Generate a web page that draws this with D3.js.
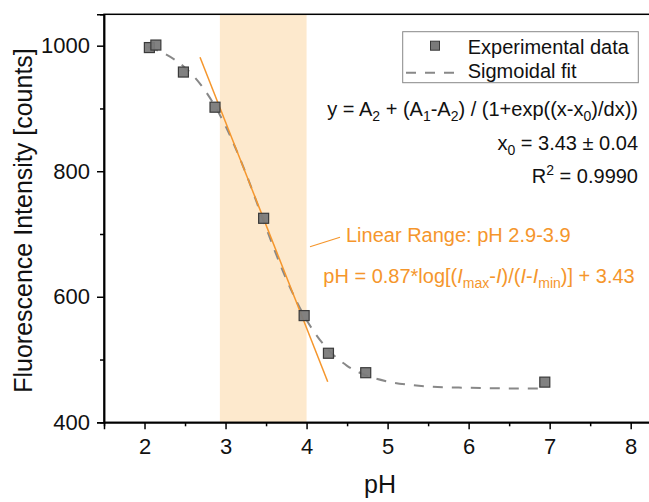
<!DOCTYPE html>
<html>
<head>
<meta charset="utf-8">
<script src="https://cdn.jsdelivr.net/npm/d3@7"></script>
<style>
  body { margin: 0; background: #fff; }
  text { font-family: "Liberation Sans", Arial, sans-serif; }
</style>
</head>
<body>
<div id="chart"></div>
<script>
// measured points
var phValues   = [2.06, 2.14, 2.48, 2.87, 3.47, 3.97, 4.27, 4.73, 6.94];
var intensity  = [997, 1001, 958, 902, 725, 570, 510, 479, 464];

// dashed sigmoidal fit
var fitX = [2.05, 2.25, 2.5, 2.75, 3.0, 3.25, 3.5, 3.75, 4.0, 4.25, 4.5, 4.75, 5.0, 5.25, 5.5, 6.0, 6.5, 6.95];
var fitY = [998, 987, 965, 928, 872, 797, 710, 628, 563, 518, 490, 474, 465, 460, 457, 455, 454, 454];

// orange linear fit line (end points) and shaded linear range
var linearX = [2.685, 4.261];
var linearY = [981.5, 464.7];
var bandRange = [2.93, 4.0];

var xMajor = [2, 3, 4, 5, 6, 7, 8];
var xMinor = [2.5, 3.5, 4.5, 5.5, 6.5, 7.5];
var yMajor = [400, 600, 800, 1000];
var yMinor = [500, 700, 900];

var width = 649, height = 502;
var orange = "#f5962c";

var svg = d3.select("#chart").append("svg")
    .attr("width", width)
    .attr("height", height);

var xScale = d3.scaleLinear().domain([1.5, 8.3]).range([104, 655]);
var yScale = d3.scaleLinear().domain([400, 1050]).range([422.3, 14.3]);

// shaded linear range
svg.append("rect")
    .attr("x", xScale(bandRange[0]))
    .attr("y", yScale(1050))
    .attr("width", xScale(bandRange[1]) - xScale(bandRange[0]))
    .attr("height", yScale(400) - yScale(1050))
    .style("fill", "#fde9cd");

// frame (right side falls outside the picture)
svg.append("rect")
    .attr("x", xScale(1.5))
    .attr("y", yScale(1050))
    .attr("width", xScale(8.3) - xScale(1.5))
    .attr("height", yScale(400) - yScale(1050))
    .style("fill", "none")
    .attr("stroke", "#000")
    .attr("stroke-width", 1.5);

// axes
var xAxis = d3.axisBottom(xScale).tickValues(xMajor).tickSize(7).tickPadding(9).tickFormat(d3.format("d"));
var xAxisMinor = d3.axisBottom(xScale).tickValues(xMinor).tickSize(4).tickFormat("");
var yAxis = d3.axisLeft(yScale).tickValues(yMajor).tickSize(7).tickPadding(7).tickFormat(d3.format("d"));
var yAxisMinor = d3.axisLeft(yScale).tickValues(yMinor).tickSize(4).tickFormat("");

[[xAxis, "x"], [xAxisMinor, "x"], [yAxis, "y"], [yAxisMinor, "y"]].forEach(function(a) {
  var g = svg.append("g")
      .attr("transform", a[1] === "x" ? "translate(0," + yScale(400) + ")" : "translate(" + xScale(1.5) + ",0)")
      .call(a[0]);
  g.select(".domain").attr("stroke-width", 1.5);
  g.selectAll(".tick line").attr("stroke-width", 1.5);
  g.selectAll(".tick text")
      .attr("font-size", 22)
      .attr("fill", "#111")
      .style("font-family", "'Liberation Sans', Arial, sans-serif");
});

// sigmoidal fit
var line = d3.line()
    .x(function(d) { return xScale(d[0]); })
    .y(function(d) { return yScale(d[1]); })
    .curve(d3.curveMonotoneX);

svg.append("path")
    .datum(d3.zip(fitX, fitY))
    .attr("d", line)
    .attr("fill", "none")
    .attr("stroke", "#888")
    .attr("stroke-width", 2)
    .attr("stroke-dasharray", "10,9");

// linear fit
svg.append("path")
    .datum(d3.zip(linearX, linearY))
    .attr("d", d3.line().x(function(d) { return xScale(d[0]); }).y(function(d) { return yScale(d[1]); }))
    .attr("stroke", orange)
    .attr("stroke-width", 1.5)
    .attr("fill", "none");

// data points
var size = 10;
svg.selectAll("rect.pt")
    .data(d3.zip(phValues, intensity))
    .enter()
      .append("rect")
      .attr("class", "pt")
      .attr("x", function(d) { return xScale(d[0]) - size / 2; })
      .attr("y", function(d) { return yScale(d[1]) - size / 2; })
      .attr("width", size)
      .attr("height", size)
      .style("fill", "#7a7a7a")
      .style("fill-opacity", 0.95)
      .attr("stroke", "#3a3a3a")
      .attr("stroke-width", 1.2);

// legend
var legend = svg.append("g");
legend.append("rect")
    .attr("x", 402.7).attr("y", 31.7)
    .attr("width", 235.6).attr("height", 51)
    .style("fill", "#fff")
    .attr("stroke", "#888")
    .attr("stroke-width", 1);
legend.append("rect")
    .attr("x", 430.5).attr("y", 41.2)
    .attr("width", 9).attr("height", 9)
    .style("fill", "#7a7a7a")
    .attr("stroke", "#3a3a3a");
legend.append("line")
    .attr("x1", 406).attr("x2", 455)
    .attr("y1", 72.7).attr("y2", 72.7)
    .attr("stroke", "#888")
    .attr("stroke-width", 2)
    .attr("stroke-dasharray", "10,9");
legend.append("text").attr("x", 467.7).attr("y", 54.3).attr("font-size", 20).attr("fill", "#111").text("Experimental data");
legend.append("text").attr("x", 467.7).attr("y", 77.5).attr("font-size", 20).attr("fill", "#111").text("Sigmoidal fit");

// rich text helper: parts of [string, kind]
function rich(x, y, anchor, color, parts) {
  var t = svg.append("text")
      .attr("x", x).attr("y", y)
      .attr("font-size", 20)
      .attr("text-anchor", anchor)
      .attr("fill", color);
  var shift = 0;
  parts.forEach(function(p) {
    var s = t.append("tspan").text(p[0]);
    var want = p[1] === "sub" ? 5 : (p[1] === "sup" ? -8 : 0);
    if (want !== shift) { s.attr("dy", want - shift); shift = want; }
    if (p[1] === "sub" || p[1] === "sup") s.attr("font-size", 14);
    if (p[1] === "it") s.style("font-style", "italic");
  });
  return t;
}

rich(638, 116, "end", "#111", [
  ["y = A"], ["2", "sub"], [" + (A"], ["1", "sub"], ["-A"], ["2", "sub"],
  [") / (1+exp((x-x"], ["0", "sub"], [")/dx))"]
]);
rich(638, 150, "end", "#111", [["x"], ["0", "sub"], [" = 3.43 \u00b1 0.04"]]);
rich(638, 182.5, "end", "#111", [["R"], ["2", "sup"], [" = 0.9990"]]);

// orange annotation
svg.append("line")
    .attr("x1", 310).attr("y1", 246.7)
    .attr("x2", 340).attr("y2", 237.3)
    .attr("stroke", orange)
    .attr("stroke-width", 1.2);
rich(346, 241.7, "start", orange, [["Linear Range: pH 2.9-3.9"]]);
rich(323.3, 283.3, "start", orange, [
  ["pH = 0.87*log[("], ["I", "it"], ["max", "sub"], ["-"], ["I", "it"], [")/("],
  ["I", "it"], ["-"], ["I", "it"], ["min", "sub"], [")] + 3.43"]
]);

// axis titles
svg.append("text")
    .attr("x", 380)
    .attr("y", 493)
    .attr("font-size", 25)
    .attr("text-anchor", "middle")
    .attr("fill", "#111")
    .text("pH");

svg.append("text")
    .attr("transform", "translate(31.5,220.5) rotate(-90)")
    .attr("font-size", 25)
    .attr("text-anchor", "middle")
    .attr("fill", "#111")
    .text("Fluorescence Intensity [counts]");
</script>
</body>
</html>
